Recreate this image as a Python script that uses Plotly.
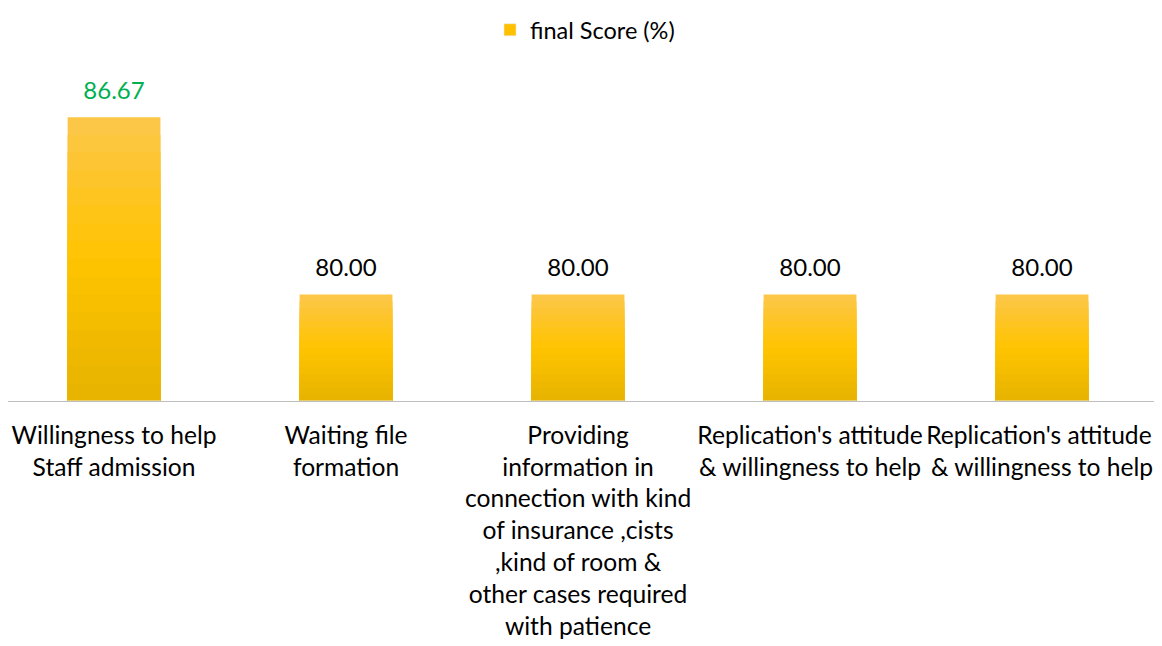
import plotly.graph_objects as go

categories = [
    "Willingness to help<br>Staff admission",
    "Waiting file<br>formation",
    "Providing<br>information in<br>connection with kind<br>of insurance ,cists<br>,kind of room &<br>other cases required<br>with patience",
    "Replication's attitude<br>& willingness to help",
    "Replication's attitude <br>& willingness to help",
]
scores = [86.67, 80.00, 80.00, 80.00, 80.00]
label_colors = ["#00B050", "#000000", "#000000", "#000000", "#000000"]

BASE = 76
FONT = "Lato, 'Open Sans', sans-serif"

# gradient fill faked with overlaid bands (top light -> mid gold -> bottom darker)
top, mid, bot = (252, 198, 70), (255, 196, 0), (232, 180, 0)


def mix(a, b, t):
    return "rgb(%d,%d,%d)" % tuple(round(a[i] + (b[i] - a[i]) * t) for i in range(3))


fig = go.Figure()
n = 16
for k in range(n):
    f = 1 - k / n
    t = k / (n - 1)
    col = mix(top, mid, t * 2) if t < 0.5 else mix(mid, bot, (t - 0.5) * 2)
    fig.add_trace(go.Bar(
        x=categories,
        y=[(s - BASE) * f for s in scores],
        base=BASE,
        marker=dict(color=col, line=dict(width=0)),
        showlegend=False,
        hoverinfo="skip",
    ))

fig.add_trace(go.Bar(
    x=categories,
    y=[0 for s in scores],
    base=BASE,
    name="final Score (%)",
    marker=dict(color="#FFC000"),
    showlegend=True,
))

fig.add_trace(go.Scatter(
    x=categories,
    y=scores,
    mode="markers+text",
    marker=dict(size=18, color="rgba(0,0,0,0)"),
    text=["%.2f" % s for s in scores],
    textposition="top center",
    textfont=dict(size=24, color=label_colors, family=FONT),
    showlegend=False,
    hoverinfo="skip",
))

fig.update_layout(
    width=1154,
    height=638,
    barmode="overlay",
    bargap=0.6,
    plot_bgcolor="white",
    paper_bgcolor="white",
    font=dict(family=FONT, size=24, color="#000000"),
    margin=dict(l=0, r=0, t=52, b=245),
    legend=dict(
        orientation="h",
        x=0.5, xanchor="center",
        y=1.105, yanchor="middle",
        font=dict(size=23.5),
        itemwidth=30,
    ),
    xaxis=dict(
        showline=True, linecolor="#BFBFBF", linewidth=1,
        ticks="", showgrid=False,
        tickfont=dict(size=24.6),
        ticklabelstandoff=12,
        range=[-0.457, 4.517],
        automargin=False,
    ),
    yaxis=dict(
        range=[BASE, 88.63],
        visible=False,
        showgrid=False,
    ),
)

fig.write_html("out.html")
